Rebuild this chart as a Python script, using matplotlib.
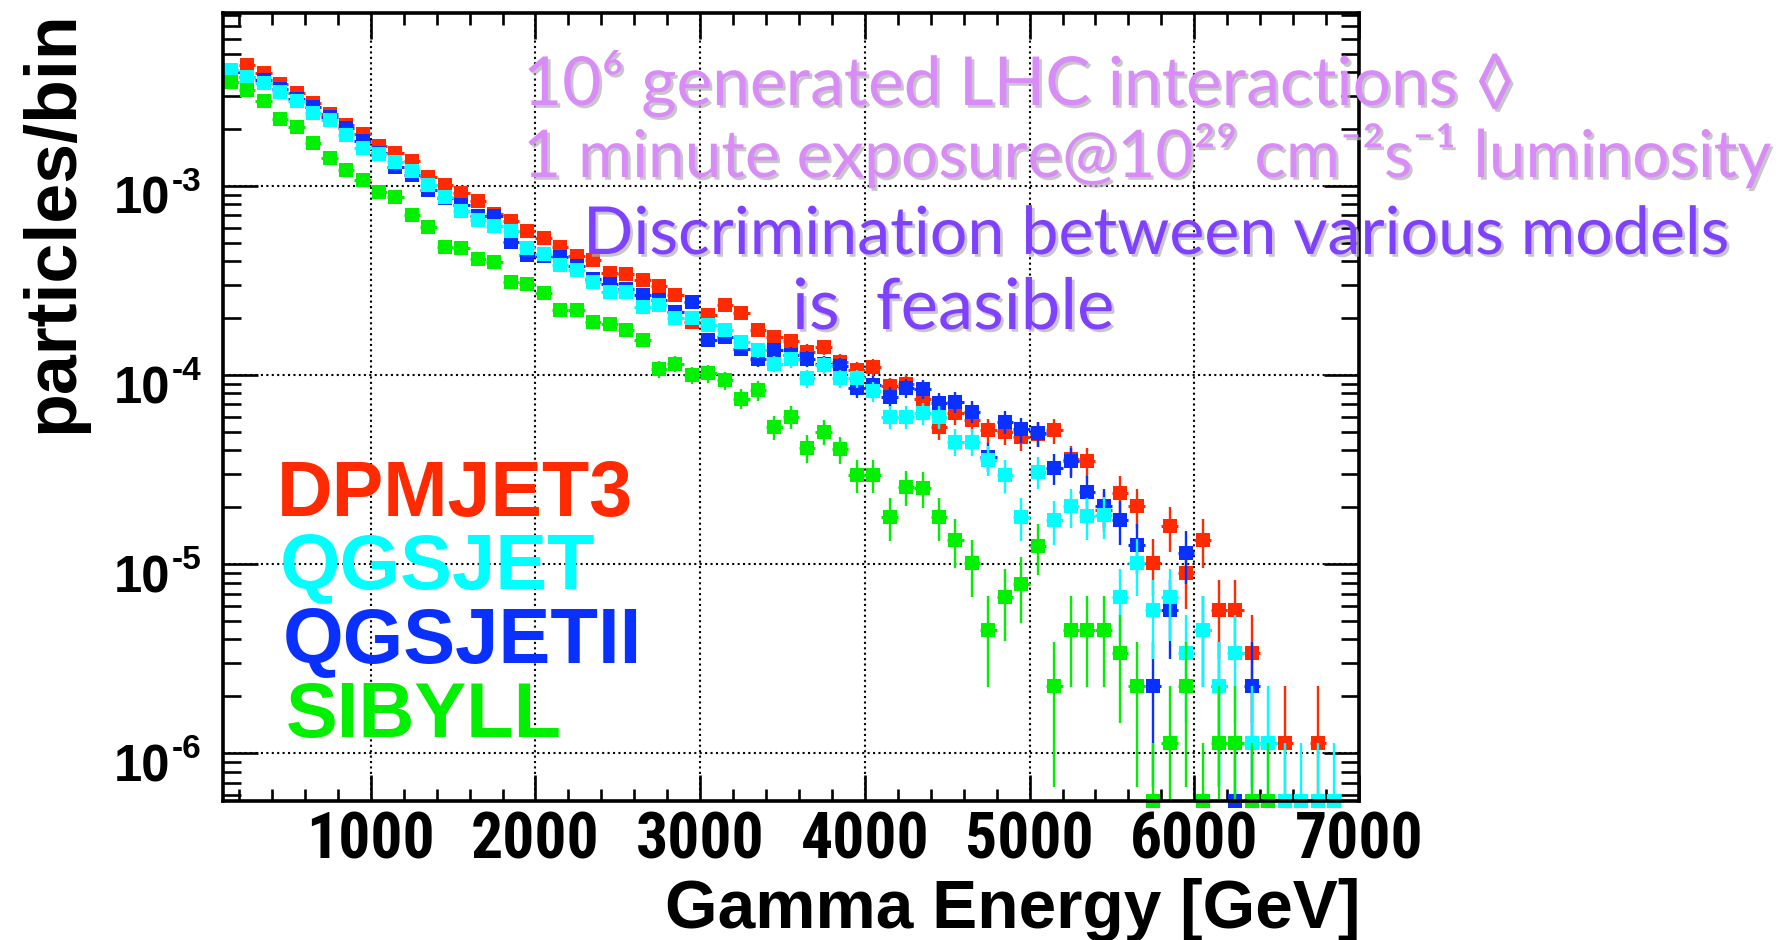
import numpy as np
import matplotlib
matplotlib.use("Agg")
import matplotlib.pyplot as plt
from matplotlib import font_manager as fm
from matplotlib import patheffects as pe
from matplotlib.textpath import TextPath
from matplotlib.ticker import FixedLocator, MultipleLocator, LogLocator, NullFormatter

# ---------------------------------------------------------------- data
# histogram binning of the photon energy (GeV)
BIN_LO, BIN_W, N_BINS = 100.0, 100.0, 68
# content of a bin holding a single photon
UNIT = 1.13e-6

nan = np.nan
dpmjet3 = [
    4.0e-3, 4.35e-3, 3.97e-3, 3.47e-3, 3.10e-3, 2.75e-3, 2.39e-3, 2.10e-3, 1.87e-3, 1.62e-3,
    1.50e-3, 1.36e-3, 1.12e-3, 1.01e-3, 9.2e-4, 8.3e-4, 7.14e-4, 6.55e-4, 5.78e-4, 5.27e-4,
    4.77e-4, 4.26e-4, 4.06e-4, 3.47e-4, 3.42e-4, 3.18e-4, 2.95e-4, 2.65e-4, 1.91e-4, 2.07e-4,
    2.34e-4, 2.13e-4, 1.73e-4, 1.59e-4, 1.52e-4, 1.33e-4, 1.41e-4, 1.17e-4, 1.06e-4, 1.10e-4,
    8.7e-5, 9.0e-5, 7.5e-5, 5.3e-5, 6.3e-5, 5.8e-5, 5.1e-5, 5.0e-5, 4.7e-5, 4.9e-5,
    5.1e-5, 3.6e-5, 3.5e-5, 1.94e-5, 2.39e-5, 2.03e-5, 1.02e-5, 1.59e-5, 9.0e-6, 1.34e-5,
    5.7e-6, 5.7e-6, 3.4e-6, nan, 1.13e-6, nan, 1.13e-6, nan,
]
qgsjet = [
    4.12e-3, 3.77e-3, 3.50e-3, 3.14e-3, 2.81e-3, 2.43e-3, 2.22e-3, 1.85e-3, 1.59e-3, 1.47e-3,
    1.34e-3, 1.20e-3, 1.01e-3, 8.75e-4, 7.38e-4, 6.59e-4, 6.12e-4, 5.75e-4, 4.67e-4, 4.35e-4,
    3.81e-4, 3.59e-4, 3.11e-4, 2.75e-4, 2.75e-4, 2.30e-4, 2.34e-4, 1.99e-4, 1.99e-4, 1.84e-4,
    1.73e-4, 1.50e-4, 1.36e-4, 1.15e-4, 1.21e-4, 9.6e-5, 1.13e-4, 9.6e-5, 9.6e-5, 8.2e-5,
    6.0e-5, 6.0e-5, 6.3e-5, 6.0e-5, 4.45e-5, 4.45e-5, 3.56e-5, 2.96e-5, 1.78e-5, 3.08e-5,
    1.71e-5, 2.03e-5, 1.80e-5, 1.82e-5, 6.7e-6, 1.02e-5, 5.7e-6, 6.7e-6, 3.4e-6, 4.5e-6,
    2.26e-6, 3.4e-6, 1.13e-6, 1.13e-6, 0.0, 0.0, 0.0, 0.0,
]
qgsjetii = [
    4.0e-3, 3.75e-3, 3.62e-3, 3.25e-3, 2.88e-3, 2.60e-3, 2.30e-3, 2.02e-3, 1.72e-3, 1.50e-3,
    1.26e-3, 1.14e-3, 9.5e-4, 8.6e-4, 7.9e-4, 6.9e-4, 6.9e-4, 5.06e-4, 4.30e-4, 4.25e-4,
    4.22e-4, 3.75e-4, 3.20e-4, 3.03e-4, 2.85e-4, 2.65e-4, 2.50e-4, 2.16e-4, 2.44e-4, 1.54e-4,
    1.59e-4, 1.38e-4, 1.22e-4, 1.36e-4, 1.28e-4, 1.22e-4, 1.15e-4, 1.12e-4, 8.5e-5, 8.9e-5,
    7.7e-5, 8.5e-5, 8.4e-5, 7.1e-5, 7.2e-5, 6.4e-5, 3.7e-5, 5.67e-5, 5.16e-5, 4.92e-5,
    3.21e-5, 3.5e-5, 2.42e-5, 2.03e-5, 1.71e-5, 1.26e-5, 2.26e-6, 5.7e-6, 1.14e-5, 4.5e-6,
    2.26e-6, 0.0, 2.26e-6, nan, nan, nan, nan, nan,
]
sibyll = [
    3.54e-3, 3.23e-3, 2.80e-3, 2.25e-3, 2.05e-3, 1.69e-3, 1.41e-3, 1.21e-3, 1.08e-3, 9.3e-4,
    8.7e-4, 7.0e-4, 6.08e-4, 4.77e-4, 4.67e-4, 4.13e-4, 3.97e-4, 3.11e-4, 3.03e-4, 2.72e-4,
    2.20e-4, 2.20e-4, 1.91e-4, 1.87e-4, 1.73e-4, 1.53e-4, 1.07e-4, 1.15e-4, 1.00e-4, 1.02e-4,
    9.4e-5, 7.5e-5, 8.3e-5, 5.3e-5, 6.0e-5, 4.13e-5, 5.0e-5, 4.05e-5, 2.96e-5, 2.96e-5,
    1.78e-5, 2.57e-5, 2.52e-5, 1.78e-5, 1.34e-5, 1.01e-5, 4.5e-6, 6.7e-6, 7.9e-6, 1.25e-5,
    2.26e-6, 4.5e-6, 4.5e-6, 4.5e-6, 3.4e-6, 2.26e-6, 0.0, 1.13e-6, 2.26e-6, 0.0,
    1.13e-6, 1.13e-6, 0.0, 0.0, nan, nan, nan, nan,
]

model_names = ["DPMJET3", "QGSJET", "QGSJETII", "SIBYLL"]
x_tick_values = [1000, 2000, 3000, 4000, 5000, 6000, 7000]
y_tick_values = [1e-6, 1e-5, 1e-4, 1e-3]
y_tick_exponents = ["-6", "-5", "-4", "-3"]
x_title = "Gamma Energy [GeV]"
y_title = "particles/bin"
note_lines = ["10\u2076 generated LHC interactions \u25ca",
              "1 minute exposure@10\u00b2\u2079 cm\u207b\u00b2s\u207b\u00b9 luminosity",
              "Discrimination between various models",
              "is  feasible"]

# ---------------------------------------------------------------- fonts
_installed = {f.name for f in fm.fontManager.ttflist}


def pick(*names):
    for n in names:
        if n in _installed:
            return n
    return "DejaVu Sans"


BOLD = pick("Liberation Sans", "Arial", "DejaVu Sans")
NOTE = [pick("Lato", "Open Sans", "DejaVu Sans"), "DejaVu Sans"]


def _weight(w):
    if isinstance(w, str):
        return fm.weight_dict.get(w, 400)
    return w


def tick_font(label_w_px, digit_h_px):
    """Bold sans face whose digits, fitted to the label width, come closest
    to the wanted digit height (prefers narrow cuts when they exist)."""
    names = ("Liberation Sans Narrow", "Arial Narrow", "Noto Sans",
             "Noto Sans Condensed", "Roboto Condensed", "Liberation Sans", "Arial")
    best = None
    for f in fm.fontManager.ttflist:
        if f.name not in names or f.style != "normal" or _weight(f.weight) < 700:
            continue
        fp = fm.FontProperties(fname=f.fname)
        try:
            ext = TextPath((0, 0), "1000", size=100, prop=fp).get_extents()
            h = TextPath((0, 0), "0", size=100, prop=fp).get_extents().height
        except Exception:
            continue
        size_pt = 100 * label_w_px / ext.width * 72 / 100
        height_px = h * size_pt / 100 * 100 / 72
        score = abs(height_px - digit_h_px)
        if best is None or score < best[0]:
            best = (score, fp, size_pt)
    if best is None:
        return fm.FontProperties(family=BOLD, weight="bold"), 39.5
    return best[1], best[2]


# ---------------------------------------------------------------- figure
W, H = 1792, 940
fig = plt.figure(figsize=(W / 100, H / 100), dpi=100)
fig.patch.set_facecolor("white")


def fx(px):
    return px / W


def fy(py):
    return 1.0 - py / H


def pt(px):
    return px * 72.0 / 100.0


ax = fig.add_axes([fx(222.5), fy(801), (1359 - 222.5) / W, (801 - 13) / H])
ax.set_yscale("log")
ax.set_xlim(100, 7000)
Y_LO, Y_HI = 5.6e-7, 8.2e-3
ax.set_ylim(Y_LO, Y_HI)

centres = BIN_LO + BIN_W * (np.arange(N_BINS) + 0.5)

colors = {"DPMJET3": "#ff2a00", "QGSJET": "#00ffff",
          "QGSJETII": "#0a30ff", "SIBYLL": "#00f000"}
series = {"DPMJET3": dpmjet3, "QGSJET": qgsjet,
          "QGSJETII": qgsjetii, "SIBYLL": sibyll}


def draw_series(vals, color, z):
    v = np.asarray(vals, dtype=float)
    ok = ~np.isnan(v)
    x = centres[ok]
    v = v[ok]
    counts = v / UNIT
    err = UNIT * np.sqrt(np.maximum(counts, 1.0))
    ypos = np.where(v > 0, v, Y_LO)
    lo = np.maximum(v - err, Y_LO)
    hi = v + err
    ax.vlines(x, lo, hi, colors=color, lw=1.7, zorder=z, clip_on=False)
    ax.hlines(ypos, x - BIN_W / 2, x + BIN_W / 2, colors=color, lw=2.2,
              zorder=z, clip_on=False)
    ax.plot(x, ypos, "s", ms=9.8, color=color, mec=color, mew=0,
            zorder=z + 0.1, clip_on=False)


for i, name in enumerate(["DPMJET3", "QGSJETII", "QGSJET", "SIBYLL"]):
    draw_series(series[name], colors[name], 3 + i)

# grid, frame and ticks
ax.grid(True, which="major", color="black", lw=1.5, ls=(0, (1.0, 1.6)), zorder=1)
for s in ax.spines.values():
    s.set_linewidth(2.6)
    s.set_zorder(10)

ax.xaxis.set_major_locator(FixedLocator(x_tick_values))
ax.xaxis.set_minor_locator(MultipleLocator(200))
ax.yaxis.set_major_locator(FixedLocator(y_tick_values))
ax.yaxis.set_minor_locator(LogLocator(base=10, subs=np.arange(2, 10)))
ax.yaxis.set_minor_formatter(NullFormatter())
ax.set_xticklabels([str(v) for v in x_tick_values])

ax.tick_params(axis="x", which="major", direction="in", length=18.5, width=1.9,
               top=True, bottom=True, pad=7)
ax.tick_params(axis="x", which="minor", direction="in", length=8.5, width=1.9,
               top=True, bottom=True)
ax.tick_params(axis="y", which="major", direction="in", length=25, width=1.9,
               left=True, right=True, labelleft=False)
ax.tick_params(axis="y", which="minor", direction="in", length=13, width=1.9,
               left=True, right=True)

xfp, xsize = tick_font(121, 47)
for lab in ax.get_xticklabels():
    lab.set_fontproperties(xfp)
    lab.set_fontsize(xsize)

# decade labels: mantissa "10" just under the tick line, exponent raised to its right
for v, e in zip(y_tick_values, y_tick_exponents):
    ax.annotate("10", xy=(0, v), xycoords=("axes fraction", "data"),
                xytext=(pt(-52), pt(-28)), textcoords="offset points",
                ha="right", va="baseline", fontsize=36.5, fontweight="bold",
                fontfamily=BOLD, annotation_clip=False)
    ax.annotate(e, xy=(0, v), xycoords=("axes fraction", "data"),
                xytext=(pt(-51), pt(-5)), textcoords="offset points",
                ha="left", va="baseline", fontsize=24, fontweight="bold",
                fontfamily=BOLD, annotation_clip=False)

renderer = fig.canvas.get_renderer()


def fit_text(x_px, base_px, s, width_px, size0=40, ha="left", rotation=0, **kw):
    t = fig.text(fx(x_px), fy(base_px), s, fontsize=size0, ha=ha,
                 va="baseline" if rotation == 0 else "center",
                 rotation=rotation, **kw)
    ext = t.get_window_extent(renderer)
    w = ext.width if rotation == 0 else ext.height
    t.set_fontsize(size0 * width_px / w)
    return t


# axis titles
fit_text(1360, 928, x_title, 695, ha="right", family=BOLD, weight="bold")
fit_text(53, 222, y_title, 422, ha="center", rotation=90, family=BOLD, weight="bold")

# model legend written in the model colours
legend_pos = {"DPMJET3": (277, 516, 356), "QGSJET": (280, 589, 315),
              "QGSJETII": (283, 663, 359), "SIBYLL": (286, 737, 276)}
for name in model_names:
    x0, b0, w0 = legend_pos[name]
    fit_text(x0, b0, name, w0, family=BOLD, weight="bold", color=colors[name])

# physics notes
shadow = [pe.withSimplePatchShadow(offset=(2, -2), shadow_rgbFace="#b0b0b0", alpha=0.7)]
note_fmt = [(523, 105, 991, "#d98cf7"), (523, 177, 1246, "#d98cf7"),
            (583, 254, 1145, "#8040ff"), (792, 329, 322, "#8040ff")]
for text, (x0, b0, w0, c) in zip(note_lines, note_fmt):
    fit_text(x0, b0, text, w0, family=NOTE, color=c, path_effects=shadow)

fig.savefig("out.png", dpi=100, facecolor="white")
